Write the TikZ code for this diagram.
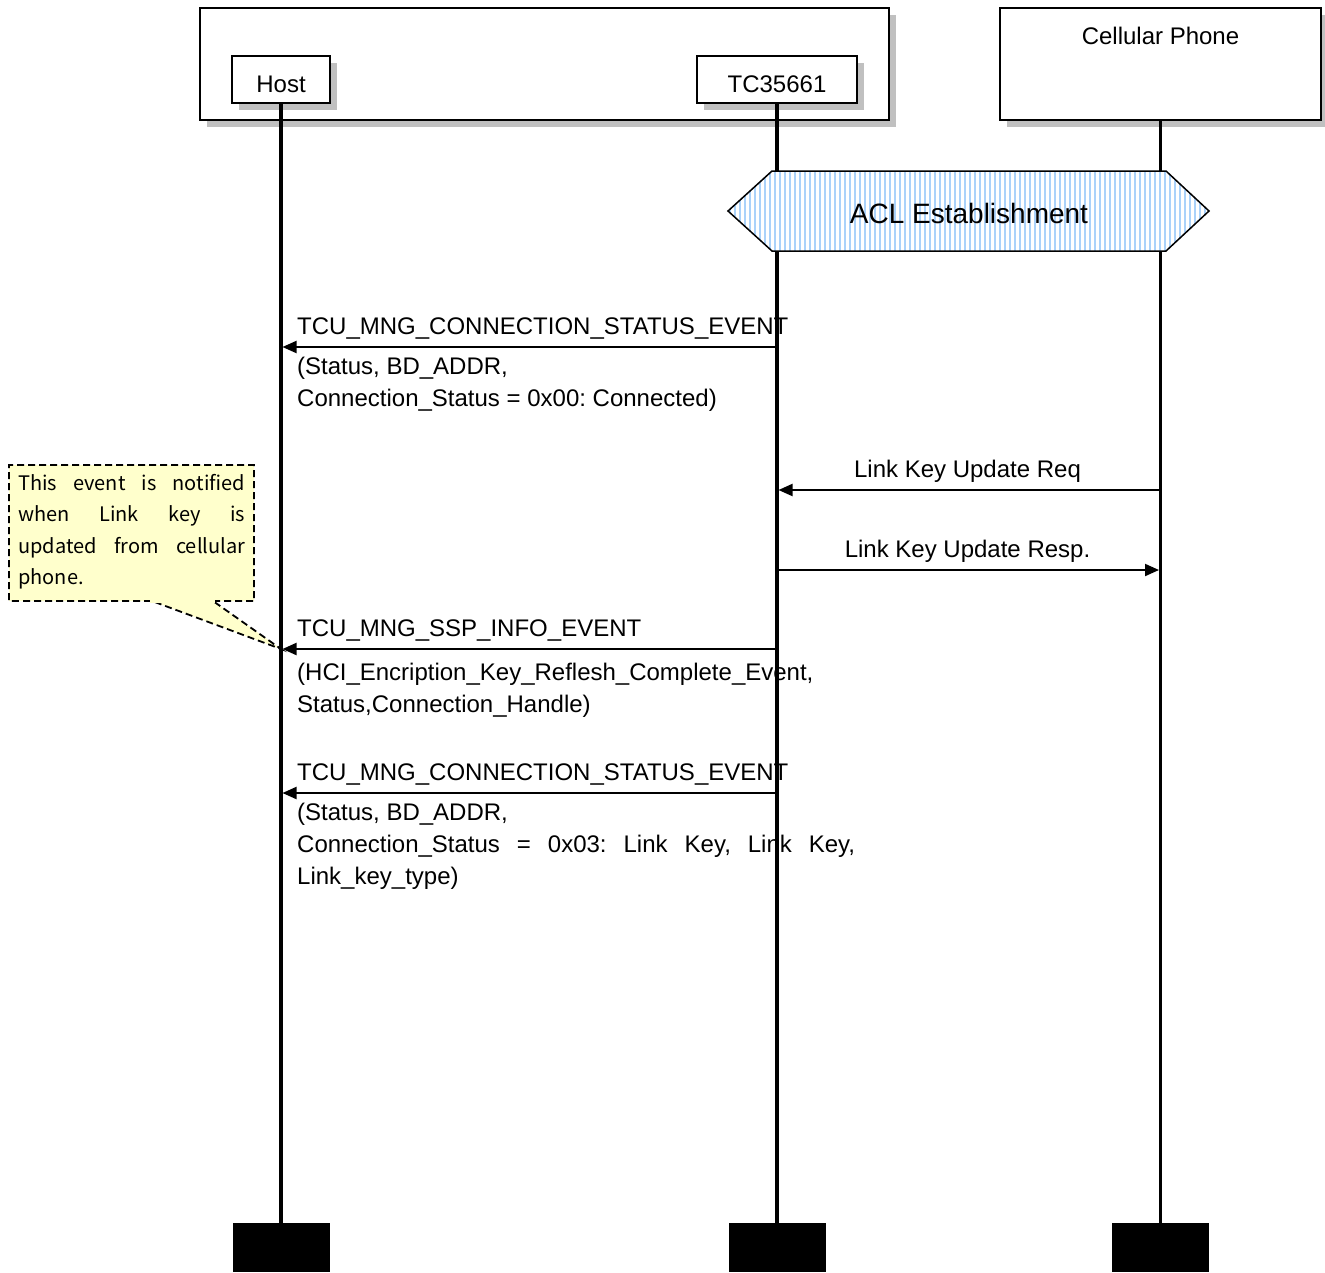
\documentclass[tikz,border=0pt]{standalone}
\usepackage{fontspec}
\setmainfont{Liberation Sans}
\newfontfamily\notefont{Noto Sans CJK JP}
\usetikzlibrary{arrows.meta,shadows}
\definecolor{shadowgray}{RGB}{192,192,192}
\definecolor{hatchblue}{RGB}{170,210,250}
\definecolor{noteyellow}{RGB}{255,255,204}
\frenchspacing
\begin{document}
\begin{tikzpicture}[x=1pt,y=-1pt,
  box/.style={draw=black,line width=2pt,fill=white,inner sep=0pt,
    drop shadow={shadow xshift=7pt,shadow yshift=-7pt,fill=shadowgray,opacity=1}},
  txt/.style={inner sep=0pt,font=\fontsize{24}{32}\selectfont},
  lbl/.style={txt,anchor=base west},
  clbl/.style={txt,anchor=base},
  life/.style={line width=3.2pt},
  endbox/.style={fill=black,draw=none,inner sep=0pt,minimum width=97pt,minimum height=49pt},
  msg/.style={line width=2pt,-{Triangle[length=14pt,width=12pt]},shorten >=1.5pt},
  notetxt/.style={inner sep=0pt,anchor=base west,font=\notefont\fontsize{20}{31}\selectfont},
  notebox/.style={line width=1.8pt,dash pattern=on 7pt off 4pt}
]
\useasboundingbox (0,0) rectangle (1325,1272);

% outer boxes
\node[box,minimum width=689pt,minimum height=112pt] (group) at (544.5,64) {};
\node[box,minimum width=321pt,minimum height=112pt] (phone) at (1160.5,64) {};
\node[clbl] (phonelbl) at (1160.5,44) {Cellular Phone};
\node[box,minimum width=98pt,minimum height=47pt] (host) at (281,79.5) {};
\node[clbl] (hostlbl) at (281,92) {Host};
\node[box,minimum width=160pt,minimum height=47pt] (tc) at (777,79.5) {};
\node[clbl] (tclbl) at (777,92) {TC35661};

% end boxes
\node[endbox] (hostend) at (281,1247.5) {};
\node[endbox] (tcend) at (777,1247.5) {};
\node[endbox] (phoneend) at (1160.5,1247.5) {};

% lifelines
\draw[life] (host.south) -- (hostend.north);
\draw[life] (tc.south) -- (tcend.north);
\draw[life] (phone.south) -- (phoneend.north);

% ACL establishment hexagon
\begin{scope}
  \path[clip] (728,211) -- (772,171) -- (1166,171) -- (1209,211) -- (1166,251) -- (772,251) -- cycle;
  \fill[white] (720,165) rectangle (1215,255);
  \foreach \x in {730,735,...,1208} \draw[hatchblue,line width=1.2pt] (\x,165) -- (\x,255);
\end{scope}
\draw[line width=1.5pt,line join=miter] (728,211) -- (772,171) -- (1166,171) -- (1209,211) -- (1166,251) -- (772,251) -- cycle;
\node[inner sep=0pt,font=\fontsize{28}{34}\selectfont] (acl) at (969,213) {ACL Establishment};

% message coordinates
\coordinate (m1s) at (777,347);  \coordinate (m1e) at (281,347);
\coordinate (m2s) at (1160.5,490); \coordinate (m2e) at (777,490);
\coordinate (m3s) at (777,570);  \coordinate (m3e) at (1160.5,570);
\coordinate (m4s) at (777,649);  \coordinate (m4e) at (281,649);
\coordinate (m5s) at (777,793);  \coordinate (m5e) at (281,793);

% note (drawn before message arrows)
\fill[noteyellow] (9,465) -- (254,465) -- (254,601) -- (213,601) -- (m4e) -- (152,601) -- (9,601) -- cycle;
\draw[notebox] (213,601) -- (254,601) -- (254,465) -- (9,465) -- (9,601) -- (152,601) -- (m4e) -- cycle;
\fill[noteyellow] (150,599.5) rectangle (215,603);
\node[notetxt] (n1) at (18,490) {\makebox[227pt][s]{This event is notified}};
\node[notetxt] (n2) at (18,521) {\makebox[227pt][s]{when Link key is}};
\node[notetxt] (n3) at (18,553) {\makebox[227pt][s]{updated from cellular}};
\node[notetxt] (n4) at (18,584) {phone.};

% messages
\draw[msg] (m1s) -- (m1e);
\node[lbl] (l1a) at (297,334) {TCU\_MNG\_CONNECTION\_STATUS\_EVENT};
\node[lbl] (l1b) at (297,374) {(Status, BD\_ADDR,};
\node[lbl] (l1c) at (297,406) {Connection\_Status = 0x00: Connected)};

\draw[msg] (m2s) -- (m2e);
\node[clbl] (l2) at (967.5,477) {Link Key Update Req};

\draw[msg] (m3s) -- (m3e);
\node[clbl] (l3) at (967.5,557) {Link Key Update Resp.};

\draw[msg] (m4s) -- (m4e);
\node[lbl] (l4a) at (297,636) {TCU\_MNG\_SSP\_INFO\_EVENT};
\node[lbl] (l4b) at (297,680) {(HCI\_Encription\_Key\_Reflesh\_Complete\_Event,};
\node[lbl] (l4c) at (297,712) {Status,Connection\_Handle)};

\draw[msg] (m5s) -- (m5e);
\node[lbl] (l5a) at (297,780) {TCU\_MNG\_CONNECTION\_STATUS\_EVENT};
\node[lbl] (l5b) at (297,820) {(Status, BD\_ADDR,};
\node[lbl] (l5c) at (297,852) {\makebox[558pt][s]{Connection\_Status = 0x03: Link Key, Link Key,}};
\node[lbl] (l5d) at (297,884) {Link\_key\_type)};
\end{tikzpicture}
\end{document}
